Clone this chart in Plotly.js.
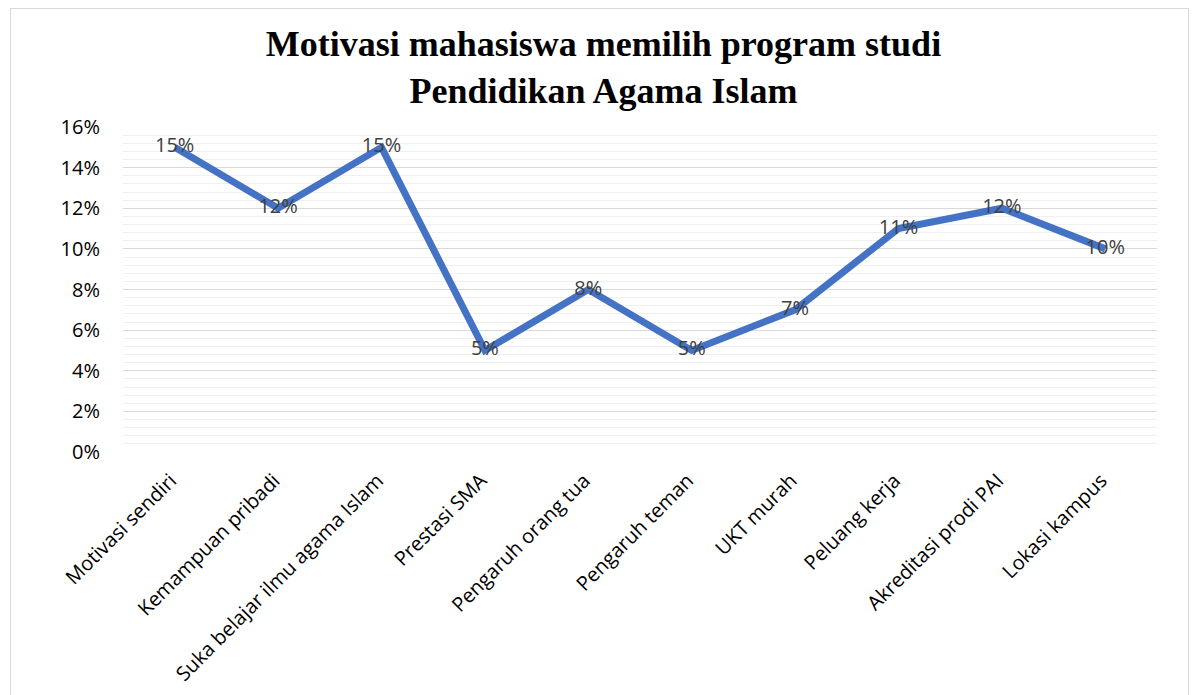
<!DOCTYPE html>
<html>
<head>
<meta charset="utf-8">
<script src="https://cdn.plot.ly/plotly-3.0.1.min.js"></script>
<style>
  html, body { margin: 0; padding: 0; background: #fff; }
  #wrap { position: relative; width: 1195px; height: 695px; }
  #chart { width: 1195px; height: 695px; }
  #frame { position: absolute; left: 10px; top: 8px; width: 1179px; height: 700px;
           border: 1px solid #d9d9d9; box-sizing: border-box; pointer-events: none; }
</style>
</head>
<body>
<div id="wrap">
  <div id="chart"></div>
  <div id="frame"></div>
</div>
<script>
const categories = [
  "Motivasi sendiri",
  "Kemampuan pribadi",
  "Suka belajar ilmu agama Islam",
  "Prestasi SMA",
  "Pengaruh orang tua",
  "Pengaruh teman",
  "UKT murah",
  "Peluang kerja",
  "Akreditasi prodi PAI",
  "Lokasi kampus"
];
const values = [0.15, 0.12, 0.15, 0.05, 0.08, 0.05, 0.07, 0.11, 0.12, 0.10];
const labels = ["15%", "12%", "15%", "5%", "8%", "5%", "7%", "11%", "12%", "10%"];
const titleText = "Motivasi mahasiswa memilih program studi<br>Pendidikan Agama Islam";

const trace = {
  type: "scatter",
  mode: "lines+text",
  x: categories,
  y: values,
  text: labels,
  textposition: "middle center",
  textfont: { family: "Open Sans, sans-serif", size: 20, color: "#404040" },
  line: { color: "#4472C4", width: 7 },
  hoverinfo: "skip",
  cliponaxis: false
};

const layout = {
  width: 1195,
  height: 695,
  margin: { l: 123, r: 38, t: 127, b: 243 },
  paper_bgcolor: "#ffffff",
  plot_bgcolor: "#ffffff",
  showlegend: false,
  title: {
    text: titleText,
    font: { family: "Liberation Serif, Times New Roman, serif", size: 36, color: "#000000", weight: "bold" },
    x: 0.505,
    xanchor: "center",
    y: 0.919,
    yanchor: "top"
  },
  xaxis: {
    type: "category",
    range: [-0.5, 9.5],
    showgrid: false,
    zeroline: false,
    showline: false,
    ticks: "",
    tickangle: -45,
    ticklabelstandoff: 12,
    ticklabelshift: -4,
    tickfont: { family: "Open Sans, sans-serif", size: 20, color: "#000000" },
    automargin: false
  },
  yaxis: {
    range: [0, 0.16],
    dtick: 0.02,
    tickformat: ".0%",
    showgrid: true,
    gridcolor: "#d9d9d9",
    gridwidth: 1,
    zeroline: false,
    showline: false,
    ticks: "",
    ticklabelstandoff: 22,
    tickfont: { family: "Open Sans, sans-serif", size: 20, color: "#000000" },
    minor: { dtick: 0.004, showgrid: true, gridcolor: "#f0f0f0", gridwidth: 1 },
    automargin: false
  }
};

Plotly.newPlot("chart", [trace], layout, { displayModeBar: false, staticPlot: true });
</script>
</body>
</html>
